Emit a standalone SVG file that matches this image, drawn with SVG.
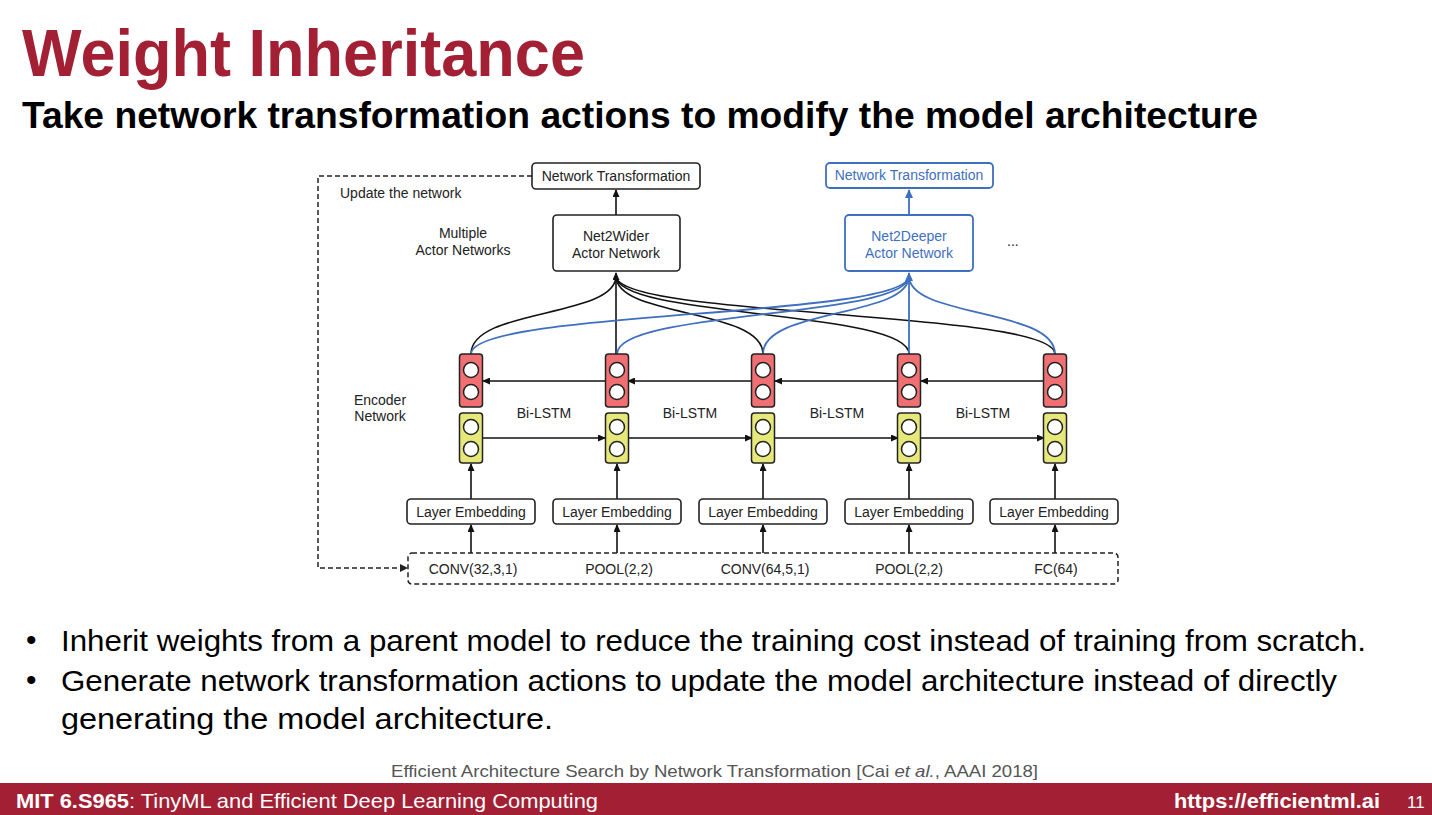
<svg xmlns="http://www.w3.org/2000/svg" width="1432" height="815" viewBox="0 0 1432 815">
<style>
text{font-family:"Liberation Sans",Arial,sans-serif}
.t{font-size:14px;fill:#222}
.tc{font-size:14px;fill:#222;text-anchor:middle}
.tb{font-size:14px;fill:#3F6FBF;text-anchor:middle}
.box{fill:#fff;stroke:#222;stroke-width:1.6}
.bbox{fill:#fff;stroke:#3F6FBF;stroke-width:1.8}
.red{fill:#EF6F72;stroke:#222;stroke-width:1.5}
.yel{fill:#E6E87A;stroke:#222;stroke-width:1.5}
.dot{fill:#fff;stroke:#222;stroke-width:1.5}
.k{fill:none;stroke:#111;stroke-width:1.6}
.b{fill:none;stroke:#3F6FBF;stroke-width:1.8}
.ar{marker-end:url(#ak)}
.ab{marker-end:url(#ab)}
.dash{fill:none;stroke:#222;stroke-width:1.5;stroke-dasharray:5,3}
</style>
<defs>
<marker id="ak" markerWidth="8" markerHeight="7" refX="7" refY="3.5" orient="auto" markerUnits="userSpaceOnUse"><path d="M0,0 L8,3.5 L0,7 z" fill="#111"/></marker>
<marker id="ab" markerWidth="9" markerHeight="8" refX="8" refY="4" orient="auto" markerUnits="userSpaceOnUse"><path d="M0,0 L9,4 L0,8 z" fill="#3F6FBF"/></marker>
</defs>
<rect width="1432" height="815" fill="#fff"/>
<text x="22" y="76" font-size="66" font-weight="bold" fill="#A31F34" textLength="563" lengthAdjust="spacingAndGlyphs">Weight Inheritance</text>
<text x="22" y="128" font-size="36" font-weight="bold" fill="#000" textLength="1236" lengthAdjust="spacingAndGlyphs">Take network transformation actions to modify the model architecture</text>

<g id="connectors">
<path class="k ar" d="M616 215 V190"/>
<path class="b ab" d="M909 215 V190"/>
<path class="dash" d="M532 176 H318 V568 H400"/>
<path d="M400 564 L408 568 L400 572 z" fill="#222"/>
<!-- black curves from Net2Wider -->
<path class="k" d="M616 276 C616 318 471 308 471 354"/>
<path class="k" d="M616 276 C616 318 763 308 763 354"/>
<path class="k" d="M616 276 C616 318 909 310 909 354"/>
<path class="k" d="M616 276 C616 318 1055 310 1055 354"/>
<path class="k ar" d="M616 354 V273"/>
<!-- blue curves from Net2Deeper -->
<path class="b" d="M909 276 C909 318 471 310 471 354"/>
<path class="b" d="M909 276 C909 318 617 310 617 354"/>
<path class="b" d="M909 276 C909 318 763 308 763 354"/>
<path class="b" d="M909 276 C909 318 1055 308 1055 354"/>
<path class="b ab" d="M909 354 V273"/>
<!-- backward LSTM (red row) -->
<path class="k ar" d="M605 381 H483"/>
<path class="k ar" d="M752 381 H628"/>
<path class="k ar" d="M898 381 H775"/>
<path class="k ar" d="M1044 381 H921"/>
<!-- forward LSTM (yellow row) -->
<path class="k ar" d="M483 438 H605"/>
<path class="k ar" d="M628 438 H752"/>
<path class="k ar" d="M775 438 H898"/>
<path class="k ar" d="M921 438 H1044"/>
<!-- embeddings to cells -->
<path class="k ar" d="M471 499 V464"/>
<path class="k ar" d="M617 499 V464"/>
<path class="k ar" d="M763 499 V464"/>
<path class="k ar" d="M909 499 V464"/>
<path class="k ar" d="M1055 499 V464"/>
<!-- layers to embeddings -->
<path class="k ar" d="M471 553 V525"/>
<path class="k ar" d="M617 553 V525"/>
<path class="k ar" d="M763 553 V525"/>
<path class="k ar" d="M909 553 V525"/>
<path class="k ar" d="M1055 553 V525"/>
</g>

<g id="nt1"><rect class="box" x="532" y="163" width="168" height="26" rx="4"/><text class="tc" x="616" y="181">Network Transformation</text></g>
<g id="nt2"><rect class="bbox" x="826" y="163" width="167" height="25" rx="4"/><text class="tb" x="909" y="180">Network Transformation</text></g>
<g id="wider"><rect class="box" x="553" y="215" width="127" height="56" rx="4"/><text class="tc" x="616" y="241">Net2Wider</text><text class="tc" x="616" y="258">Actor Network</text></g>
<g id="deeper"><rect class="bbox" x="845" y="215" width="128" height="56" rx="4"/><text class="tb" x="909" y="241">Net2Deeper</text><text class="tb" x="909" y="258">Actor Network</text></g>
<g id="labels">
<text class="t" x="340" y="198">Update the network</text>
<text class="tc" x="463" y="238">Multiple</text>
<text class="tc" x="463" y="255">Actor Networks</text>
<text class="t" x="1007" y="246">...</text>
<text class="tc" x="380" y="405">Encoder</text>
<text class="tc" x="380" y="421">Network</text>
<text class="tc" x="544" y="418">Bi-LSTM</text>
<text class="tc" x="690" y="418">Bi-LSTM</text>
<text class="tc" x="837" y="418">Bi-LSTM</text>
<text class="tc" x="983" y="418">Bi-LSTM</text>
</g>

<g id="cell1"><rect class="red" x="459.5" y="354" width="23" height="53" rx="3"/><circle class="dot" cx="471" cy="370" r="7.5"/><circle class="dot" cx="471" cy="392" r="7.5"/><rect class="yel" x="459.5" y="413" width="23" height="50" rx="3"/><circle class="dot" cx="471" cy="427" r="7.5"/><circle class="dot" cx="471" cy="449" r="7.5"/></g>
<g id="cell2"><rect class="red" x="605.5" y="354" width="23" height="53" rx="3"/><circle class="dot" cx="617" cy="370" r="7.5"/><circle class="dot" cx="617" cy="392" r="7.5"/><rect class="yel" x="605.5" y="413" width="23" height="50" rx="3"/><circle class="dot" cx="617" cy="427" r="7.5"/><circle class="dot" cx="617" cy="449" r="7.5"/></g>
<g id="cell3"><rect class="red" x="751.5" y="354" width="23" height="53" rx="3"/><circle class="dot" cx="763" cy="370" r="7.5"/><circle class="dot" cx="763" cy="392" r="7.5"/><rect class="yel" x="751.5" y="413" width="23" height="50" rx="3"/><circle class="dot" cx="763" cy="427" r="7.5"/><circle class="dot" cx="763" cy="449" r="7.5"/></g>
<g id="cell4"><rect class="red" x="897.5" y="354" width="23" height="53" rx="3"/><circle class="dot" cx="909" cy="370" r="7.5"/><circle class="dot" cx="909" cy="392" r="7.5"/><rect class="yel" x="897.5" y="413" width="23" height="50" rx="3"/><circle class="dot" cx="909" cy="427" r="7.5"/><circle class="dot" cx="909" cy="449" r="7.5"/></g>
<g id="cell5"><rect class="red" x="1043.5" y="354" width="23" height="53" rx="3"/><circle class="dot" cx="1055" cy="370" r="7.5"/><circle class="dot" cx="1055" cy="392" r="7.5"/><rect class="yel" x="1043.5" y="413" width="23" height="50" rx="3"/><circle class="dot" cx="1055" cy="427" r="7.5"/><circle class="dot" cx="1055" cy="449" r="7.5"/></g>

<g id="emb1"><rect class="box" x="407" y="499" width="128" height="25" rx="4"/><text class="tc" x="471" y="517">Layer Embedding</text></g>
<g id="emb2"><rect class="box" x="553" y="499" width="128" height="25" rx="4"/><text class="tc" x="617" y="517">Layer Embedding</text></g>
<g id="emb3"><rect class="box" x="699" y="499" width="128" height="25" rx="4"/><text class="tc" x="763" y="517">Layer Embedding</text></g>
<g id="emb4"><rect class="box" x="845" y="499" width="128" height="25" rx="4"/><text class="tc" x="909" y="517">Layer Embedding</text></g>
<g id="emb5"><rect class="box" x="990" y="499" width="128" height="25" rx="4"/><text class="tc" x="1054" y="517">Layer Embedding</text></g>

<g id="layers">
<rect class="dash" x="408" y="553" width="710" height="31" rx="4"/>
<text class="tc" x="473" y="574">CONV(32,3,1)</text>
<text class="tc" x="619" y="574">POOL(2,2)</text>
<text class="tc" x="765" y="574">CONV(64,5,1)</text>
<text class="tc" x="909" y="574">POOL(2,2)</text>
<text class="tc" x="1056" y="574">FC(64)</text>
</g>

<g id="bullets" font-size="30" fill="#000">
<text x="26" y="650">•</text>
<text x="61" y="651" textLength="1305" lengthAdjust="spacingAndGlyphs">Inherit weights from a parent model to reduce the training cost instead of training from scratch.</text>
<text x="26" y="690">•</text>
<text x="61" y="691" textLength="1276" lengthAdjust="spacingAndGlyphs">Generate network transformation actions to update the model architecture instead of directly</text>
<text x="61" y="729" textLength="492" lengthAdjust="spacingAndGlyphs">generating the model architecture.</text>
</g>
<text x="391" y="777" font-size="17" fill="#555" textLength="647" lengthAdjust="spacingAndGlyphs">Efficient Architecture Search by Network Transformation [Cai <tspan font-style="italic">et al.</tspan>, AAAI 2018]</text>

<g id="footer">
<rect x="0" y="783" width="1432" height="32" fill="#A31F34"/>
<text x="16" y="808" font-size="21" fill="#fff" textLength="582" lengthAdjust="spacingAndGlyphs"><tspan font-weight="bold">MIT 6.S965</tspan>: TinyML and Efficient Deep Learning Computing</text>
<text x="1174" y="808" font-size="21" font-weight="bold" fill="#fff" textLength="206" lengthAdjust="spacingAndGlyphs">https://efficientml.ai</text>
<text x="1407" y="808" font-size="17" fill="#fff">11</text>
</g>
</svg>
